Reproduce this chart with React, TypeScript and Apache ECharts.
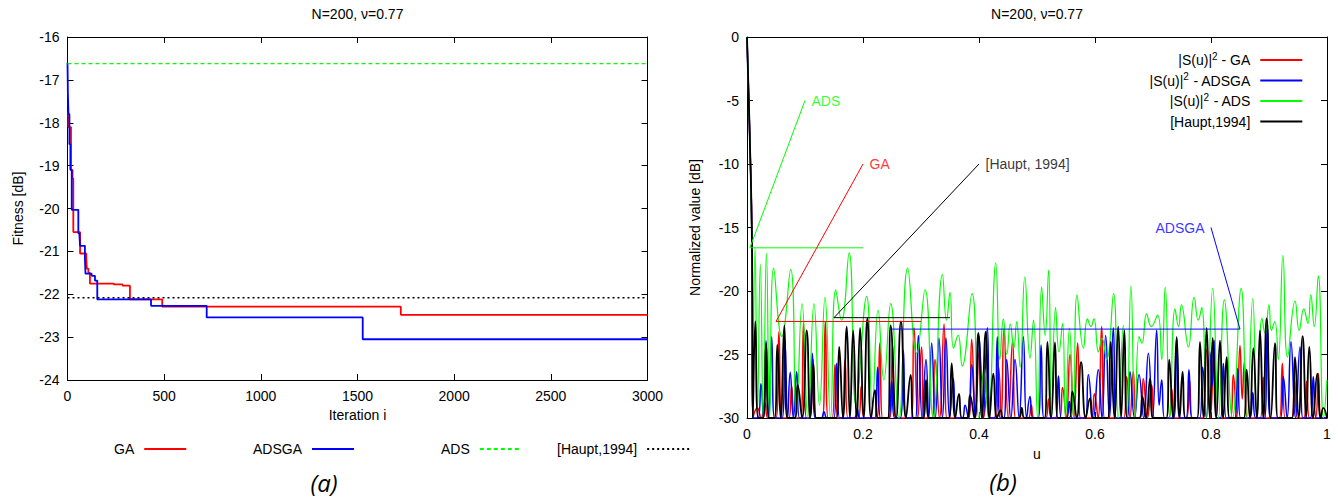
import React, { useEffect, useRef } from "react";
import * as echarts from "echarts";

const FONT = "'Liberation Sans', Arial, Helvetica, sans-serif";
const FS = 14;

// ---------- panel (a): fitness vs iteration ----------
const iterTicks = { min: 0, max: 3000, step: 500 };
const fitTicks = { min: -24, max: -16, step: 1 };
const gaFitness: [number, number][] = [
  [0, -17.75], [4, -18.1], [18, -19.1], [26, -19.3], [30, -20.55], [65, -21.05], [97, -21.15],
  [100, -21.4], [108, -21.5], [116, -21.75], [240, -21.77], [285, -21.8], [323, -22.12],
  [490, -22.29], [1724, -22.48], [3000, -22.48],
];
const adsgaFitness: [number, number][] = [
  [0, -16.6], [2, -17.3], [5, -17.8], [10, -18.5], [15, -19.1], [22, -20.03], [56, -20.58],
  [62, -20.65], [65, -20.87], [90, -21.16], [93, -21.52], [125, -21.57], [142, -21.68],
  [154, -22.12], [432, -22.27], [720, -22.54], [1527, -23.05], [3000, -23.05],
];
const adsFitness: [number, number][] = [[0, -16.62], [3000, -16.62]];
const hauptFitness: [number, number][] = [[0, -22.08], [3000, -22.08]];

// ---------- panel (b): normalized pattern vs u ----------
const uTicks = { min: 0, max: 1, step: 0.2 };
const dbTicks = { min: -30, max: 0, step: 5 };

const gaPattern: [number, number][] = [
  [0, 0], [0.0043, -7], [0.0086, -16.5], [0.01, -30],
  [0.0178, -29.2], [0.0244, -30], [0.031, -28.8], [0.036, -30], [0.05, -30], [0.055, -23.2],
  [0.06, -30], [0.072, -30], [0.077, -27.5], [0.082, -30], [0.0925, -30], [0.0975, -22.5],
  [0.1025, -30], [0.109, -30], [0.114, -25.4], [0.119, -30], [0.13, -30], [0.135, -22.4],
  [0.14, -30], [0.1467, -30], [0.1517, -25.8], [0.1567, -30], [0.164, -30], [0.169, -25.4],
  [0.174, -30], [0.192, -30], [0.197, -27.5], [0.202, -30], [0.224, -30], [0.229, -24.1],
  [0.234, -30], [0.246, -30], [0.251, -24.3], [0.256, -30], [0.283, -30], [0.288, -22.9],
  [0.2945, -30], [0.301, -24.4], [0.306, -30], [0.3191, -30], [0.3241, -25.4], [0.3319, -30],
  [0.3397, -22.6], [0.3447, -30], [0.3824, -30], [0.3874, -23.8], [0.394, -30], [0.4006, -24.65],
  [0.4078, -30], [0.415, -28], [0.42, -30], [0.4289, -30], [0.4339, -26.0], [0.4385, -30],
  [0.443, -23.0], [0.4505, -30], [0.458, -23.9], [0.463, -30], [0.485, -30], [0.49, -29],
  [0.495, -30], [0.515, -30], [0.52, -28.5], [0.525, -30], [0.539, -30], [0.544, -27.6],
  [0.5505, -30], [0.5569, -25.0], [0.5635, -30], [0.5701, -24.1], [0.5751, -30], [0.5939, -30],
  [0.5989, -28.1], [0.6052, -30], [0.6115, -22.8], [0.6165, -30], [0.6496, -30], [0.6546, -26.75],
  [0.6603, -30], [0.666, -26.35], [0.671, -30], [0.6783, -30], [0.6833, -26.9], [0.6905, -30],
  [0.6977, -27.4], [0.7027, -30], [0.7272, -30], [0.7322, -27.7], [0.7372, -30], [0.758, -30],
  [0.763, -27], [0.768, -30], [0.787, -30], [0.792, -24.6], [0.7989, -30], [0.8057, -23.9],
  [0.8107, -30], [0.8335, -30], [0.8385, -26.6], [0.8443, -30], [0.85, -24.3], [0.8538, -28.5],
  [0.8575, -25.6], [0.8625, -30], [0.885, -30], [0.89, -26.8], [0.895, -30], [0.918, -30],
  [0.923, -25.7], [0.928, -30], [0.939, -30], [0.944, -27], [0.949, -30], [0.9599, -30],
  [0.9649, -27.1], [0.9699, -30], [0.98, -30], [0.985, -26.5], [0.99, -30], [1, -30],
];

const adsgaPattern: [number, number][] = [
  [0, 0], [0.0043, -7], [0.0086, -16.5], [0.01, -30],
  [0.019, -30], [0.024, -27.3], [0.0284, -30], [0.0328, -23.9], [0.0377, -30], [0.0425, -23.6],
  [0.0475, -30], [0.0605, -30], [0.0655, -24.0], [0.07, -30], [0.0745, -26.4], [0.08, -30],
  [0.0856, -26.35], [0.0906, -30], [0.1076, -30], [0.1126, -24.9], [0.1176, -30], [0.1278, -30],
  [0.1328, -29.5], [0.1378, -30], [0.1496, -30], [0.1546, -25.7], [0.1596, -30], [0.185, -30],
  [0.19, -29.3], [0.195, -30], [0.2203, -30], [0.2253, -26.0], [0.2303, -30], [0.2444, -30],
  [0.2494, -27.1], [0.2544, -30], [0.2645, -30], [0.2695, -24.65], [0.2745, -30], [0.2904, -30],
  [0.2954, -23.5], [0.302, -30], [0.3086, -25.4], [0.3135, -30], [0.3184, -24.1], [0.3247, -30],
  [0.331, -23.7], [0.337, -30], [0.343, -23.7], [0.3494, -30], [0.3557, -26.9], [0.3607, -30],
  [0.3709, -30], [0.3759, -29.0], [0.3816, -30], [0.3874, -25.8], [0.3937, -30], [0.4, -23.6],
  [0.4072, -30], [0.4144, -22.9], [0.4194, -30], [0.4266, -30], [0.4316, -23.6], [0.4366, -30],
  [0.4427, -30], [0.4477, -25.4], [0.4549, -30], [0.4621, -25.4], [0.4692, -30], [0.4764, -23.6],
  [0.4821, -30], [0.4879, -28.3], [0.4929, -30], [0.502, -30], [0.507, -24.25], [0.512, -30],
  [0.532, -30], [0.537, -26.7], [0.542, -30], [0.5507, -30], [0.5557, -28.7], [0.5607, -30],
  [0.5835, -30], [0.5885, -26.6], [0.5971, -30], [0.6057, -26.2], [0.612, -30], [0.6184, -23.5],
  [0.625, -30], [0.6316, -22.9], [0.6366, -30], [0.6553, -30], [0.6603, -26.35], [0.6681, -30],
  [0.6759, -26.6], [0.684, -30], [0.692, -24.9], [0.6991, -30], [0.7063, -23.1], [0.7106, -29],
  [0.715, -27.0], [0.72, -30], [0.7358, -30], [0.7408, -23.6], [0.7458, -30], [0.757, -30],
  [0.762, -26.2], [0.767, -30], [0.7806, -30], [0.7856, -26.0], [0.792, -30], [0.7983, -24.8],
  [0.8018, -27.5], [0.8052, -23.9], [0.8102, -30], [0.8163, -30], [0.8213, -25.7], [0.8263, -30],
  [0.841, -30], [0.846, -26.1], [0.851, -30], [0.867, -30], [0.872, -28], [0.877, -30],
  [0.8921, -30], [0.8971, -22.7], [0.9021, -30], [0.9197, -30], [0.9247, -26.75], [0.9313, -30],
  [0.9379, -24.0], [0.9456, -30], [0.9534, -24.4], [0.9584, -30], [0.9714, -30], [0.9764, -26.75],
  [0.9814, -30], [1, -30],
];

const adsPattern: [number, number][] = [
  [0, 0], [0.004, -6.5], [0.008, -15.5], [0.0095, -28.5],
  [0.0138, -16.6], [0.018, -29.5], [0.023, -17.9], [0.028, -30], [0.0335, -17.0], [0.039, -30],
  [0.046, -18.2], [0.06, -23.6], [0.0753, -18.3], [0.085, -30], [0.095, -21.0], [0.105, -30],
  [0.1155, -21.0], [0.125, -29], [0.1345, -20.5], [0.144, -30], [0.153, -19.9], [0.163, -22.3],
  [0.176, -17.0], [0.188, -29], [0.2063, -20.45], [0.216, -29], [0.226, -21.5], [0.236, -27],
  [0.2477, -21.0], [0.262, -30], [0.277, -18.2], [0.2925, -24.9], [0.307, -19.9], [0.321, -30],
  [0.337, -18.7], [0.344, -22.3], [0.35, -20.1], [0.356, -24.5], [0.364, -23.5], [0.371, -25.9],
  [0.388, -20.2], [0.4, -30], [0.409, -26], [0.416, -30], [0.429, -17.8], [0.436, -25.4],
  [0.442, -22.2], [0.448, -25.0], [0.454, -22.6], [0.46, -24.5], [0.465, -22.4], [0.471, -26.0],
  [0.479, -18.9], [0.488, -25.3], [0.494, -22.3], [0.501, -30], [0.508, -19.7], [0.514, -23.5],
  [0.52, -18.35], [0.525, -30], [0.532, -21.3], [0.538, -24.8], [0.544, -22.55], [0.549, -30],
  [0.556, -22.9], [0.563, -30], [0.569, -20.3], [0.58, -24.5], [0.587, -22.2], [0.593, -22.8],
  [0.598, -22.2], [0.606, -24.8], [0.612, -23.7], [0.62, -25.4], [0.632, -20.2], [0.64, -30],
  [0.649, -22.7], [0.655, -30], [0.662, -19.6], [0.669, -30], [0.676, -23.6], [0.681, -24.1],
  [0.689, -21.8], [0.697, -22.8], [0.708, -21.9], [0.715, -25.4], [0.721, -19.7], [0.729, -30],
  [0.738, -21.4], [0.744, -22.8], [0.749, -21.1], [0.761, -24.4], [0.771, -20.5], [0.778, -22.3],
  [0.784, -21.3], [0.7925, -30], [0.803, -19.8], [0.813, -30], [0.823, -20.7], [0.837, -30],
  [0.852, -19.8], [0.862, -30], [0.872, -20.6], [0.879, -30], [0.888, -22.15], [0.893, -23.3],
  [0.9, -21.1], [0.904, -23.1], [0.91, -22.4], [0.916, -25.4], [0.924, -17.2], [0.932, -25.2],
  [0.945, -20.8], [0.952, -23.1], [0.96, -21.4], [0.967, -22.55], [0.972, -20.3], [0.978, -22.8],
  [0.985, -18.8], [0.994, -30], [1, -27],
];

const hauptPattern: [number, number][] = [
  [0, 0], [0.0043, -7], [0.0086, -16.5], [0.01, -30],
  [0.0144, -22.4], [0.0194, -30], [0.0278, -30], [0.0328, -24.1], [0.0378, -30], [0.0473, -30],
  [0.0523, -24.25], [0.058, -30], [0.0644, -22.7], [0.0694, -30], [0.0824, -30], [0.0874, -27.4],
  [0.095, -30], [0.103, -23.1], [0.109, -30], [0.1144, -25.8], [0.1194, -30], [0.154, -30],
  [0.159, -24.4], [0.1655, -30], [0.172, -22.8], [0.1775, -30], [0.183, -23.1], [0.189, -30],
  [0.195, -22.9], [0.201, -30], [0.2075, -22.15], [0.214, -30], [0.2207, -27.8], [0.2257, -30],
  [0.2427, -30], [0.2477, -22.7], [0.257, -30], [0.2655, -22.4], [0.274, -30], [0.2822, -26.6],
  [0.2872, -30], [0.3036, -30], [0.3086, -27.0], [0.3136, -30], [0.3479, -30], [0.3529, -25.7],
  [0.359, -30], [0.3655, -28.1], [0.3705, -30], [0.3795, -30], [0.3845, -28.2], [0.392, -30],
  [0.3989, -23.3], [0.405, -30], [0.4115, -23.2], [0.418, -30], [0.4247, -26.5], [0.431, -30],
  [0.4374, -29.4], [0.4424, -30], [0.4686, -30], [0.4736, -29.2], [0.4786, -30], [0.513, -30],
  [0.518, -24.0], [0.5245, -30], [0.531, -24.05], [0.536, -30], [0.556, -30], [0.561, -27.9],
  [0.5685, -30], [0.576, -25.6], [0.584, -30], [0.5914, -28.45], [0.5964, -30], [0.622, -30],
  [0.627, -24.0], [0.6335, -30], [0.64, -22.8], [0.645, -30], [0.6506, -23.1], [0.6556, -30],
  [0.6766, -30], [0.6816, -28.3], [0.688, -30], [0.695, -26.9], [0.7, -30], [0.723, -30],
  [0.728, -25.4], [0.7345, -30], [0.7408, -23.7], [0.746, -30], [0.751, -26.35], [0.756, -30],
  [0.776, -30], [0.781, -24.0], [0.787, -30], [0.7925, -22.9], [0.798, -30], [0.8029, -23.7],
  [0.809, -30], [0.8155, -23.9], [0.821, -30], [0.827, -25.2], [0.832, -30], [0.8565, -30],
  [0.8615, -26.2], [0.867, -30], [0.873, -24.5], [0.879, -30], [0.8845, -23.1], [0.89, -30],
  [0.896, -22.15], [0.903, -30], [0.9103, -24.1], [0.9153, -30], [0.9398, -30], [0.9448, -25.2],
  [0.951, -30], [0.958, -23.55], [0.964, -30], [0.9695, -24.4], [0.976, -30], [0.9833, -26.5],
  [0.989, -30], [0.9937, -29.2], [1, -30],
];

// annotation leaders (label point last)
const adsNote: [number, number][] = [[0.2, -16.6], [0.005, -16.6], [0.1, -5]];
const gaNote: [number, number][] = [[0.3, -22.4], [0.05, -22.4], [0.2, -10]];
const hauptNote: [number, number][] = [[0.35, -22.1], [0.15, -22.1], [0.4, -10]];
const adsgaNote: [number, number][] = [[0.25, -23.0], [0.85, -23.0], [0.8, -15]];

const RED = "#ff0000";
const BLUE = "#0000ff";
const GREEN = "#00ff00";
const BLACK = "#000000";

const txt = { fontSize: FS, fontFamily: FONT, color: "#000" };

function xAx(grid: number, t: { min: number; max: number; step: number }, top: boolean, name?: string, gap?: number) {
  return {
    gridIndex: grid,
    type: "value",
    position: top ? "top" : "bottom",
    min: t.min,
    max: t.max,
    interval: t.step,
    name: top ? undefined : name,
    nameLocation: "middle",
    nameGap: gap,
    nameTextStyle: txt,
    axisLine: { show: true, onZero: false, lineStyle: { color: "#000", width: 1 } },
    axisTick: { show: true, inside: true, length: 6, lineStyle: { color: "#000" } },
    axisLabel: {
      show: !top,
      ...txt,
      margin: 9,
      formatter: (v: number) => String(Math.round(v * 10) / 10),
    },
    splitLine: { show: false },
  };
}
function yAx(grid: number, t: { min: number; max: number; step: number }, right: boolean, name?: string, gap?: number) {
  return {
    gridIndex: grid,
    type: "value",
    position: right ? "right" : "left",
    min: t.min,
    max: t.max,
    interval: t.step,
    name: right ? undefined : name,
    nameLocation: "middle",
    nameGap: gap,
    nameRotate: 90,
    nameTextStyle: txt,
    axisLine: { show: true, onZero: false, lineStyle: { color: "#000", width: 1 } },
    axisTick: { show: true, inside: true, length: 6, lineStyle: { color: "#000" } },
    axisLabel: { show: !right, ...txt, margin: 8 },
    splitLine: { show: false },
  };
}

function line(name: string, data: [number, number][], grid: number, color: string, width: number, extra: any = {}) {
  return {
    name,
    type: "line",
    xAxisIndex: grid * 2,
    yAxisIndex: grid * 2,
    data,
    symbol: "none",
    showSymbol: false,
    lineStyle: { color, width },
    itemStyle: { color },
    ...extra,
  };
}

function note(text: string, at: [number, number], color: string, pos: string) {
  return {
    type: "scatter",
    xAxisIndex: 2,
    yAxisIndex: 2,
    data: [at],
    symbolSize: 1,
    itemStyle: { color: "transparent" },
    silent: true,
    label: { show: true, position: pos, distance: 6, formatter: text, color, fontSize: FS, fontFamily: FONT },
  };
}

const patternLabels: Record<string, string> = {
  "S-GA": "{t||S(u)|}{s|2}{t| - GA}",
  "S-ADSGA": "{t||S(u)|}{s|2}{t| - ADSGA}",
  "S-ADS": "{t||S(u)|}{s|2}{t| - ADS}",
  "S-Haupt": "{t|[Haupt,1994]}",
};

const hideSymbol = { opacity: 0, borderWidth: 0 };

function leftLegend(name: string, left: number) {
  return {
    data: [name],
    left,
    top: 437,
    align: "right",
    itemWidth: 42,
    itemHeight: 14,
    selectedMode: false,
    itemStyle: hideSymbol,
    textStyle: { ...txt, padding: [0, 5, 0, 0] },
  };
}

export default function App() {
  const ref = useRef<HTMLDivElement>(null);
  useEffect(() => {
    if (!ref.current) return;
    const chart = echarts.init(ref.current, null, { renderer: "svg" });
    const option: any = {
      animation: false,
      backgroundColor: "#fff",
      textStyle: { fontFamily: FONT },
      grid: [
        { left: 67.5, top: 37, width: 580, height: 343 },
        { left: 747, top: 37, width: 580, height: 381 },
      ],
      xAxis: [
        xAx(0, iterTicks, false, "Iteration i", 27),
        xAx(0, iterTicks, true),
        xAx(1, uTicks, false, "u", 29),
        xAx(1, uTicks, true),
      ],
      yAxis: [
        yAx(0, fitTicks, false, "Fitness [dB]", 43),
        yAx(0, fitTicks, true),
        yAx(1, dbTicks, false, "Normalized value [dB]", 45),
        yAx(1, dbTicks, true),
      ],
      legend: [
        leftLegend("GA", 109),
        leftLegend("ADSGA", 248),
        leftLegend("ADS", 436),
        leftLegend("[Haupt,1994]", 552),
        {
          data: ["S-GA", "S-ADSGA", "S-ADS", "S-Haupt"],
          orient: "vertical",
          right: 29.7,
          top: 46,
          align: "right",
          itemWidth: 42,
          itemHeight: 14,
          itemGap: 2.5,
          selectedMode: false,
          itemStyle: hideSymbol,
          formatter: (n: string) => patternLabels[n],
          textStyle: {
            ...txt,
            lineHeight: 18,
            padding: [0, 5, 0, 0],
            rich: {
              t: { fontSize: FS, fontFamily: FONT, color: "#000", lineHeight: 18 },
              s: { fontSize: 10, fontFamily: FONT, color: "#000", lineHeight: 18, verticalAlign: "top" },
            },
          },
        },
      ],
      graphic: [
        { type: "text", x: 357.5, y: 14, style: { text: "N=200, \u03bd=0.77", font: `${FS}px ${FONT}`, fill: "#000", align: "center", verticalAlign: "middle" } },
        { type: "text", x: 1037, y: 14, style: { text: "N=200, \u03bd=0.77", font: `${FS}px ${FONT}`, fill: "#000", align: "center", verticalAlign: "middle" } },
        { type: "text", x: 324, y: 482, style: { text: "(a)", font: `italic 24px 'Open Sans', 'Noto Sans', sans-serif`, fill: "#000", align: "center", verticalAlign: "middle" } },
        { type: "text", x: 1003, y: 481, style: { text: "(b)", font: `italic 24px 'Open Sans', 'Noto Sans', sans-serif`, fill: "#000", align: "center", verticalAlign: "middle" } },
      ],
      series: [
        line("GA", gaFitness, 0, RED, 1.8, { step: "end" }),
        line("ADSGA", adsgaFitness, 0, BLUE, 1.8, { step: "end" }),
        line("ADS", adsFitness, 0, GREEN, 1.2, { lineStyle: { color: GREEN, width: 1.2, type: [4, 3] } }),
        line("[Haupt,1994]", hauptFitness, 0, BLACK, 1.5, { lineStyle: { color: BLACK, width: 1.5, type: [2, 3] } }),

        line("S-GA", gaPattern, 1, RED, 1.5, { smooth: 0.5 }),
        line("S-ADSGA", adsgaPattern, 1, BLUE, 1.5, { smooth: 0.5 }),
        line("S-ADS", adsPattern, 1, GREEN, 1.2, { smooth: 0.5 }),
        line("S-Haupt", hauptPattern, 1, BLACK, 1.8, { smooth: 0.5 }),

        line("note-ads", adsNote, 1, GREEN, 1),
        line("note-ga", gaNote, 1, RED, 1),
        line("note-haupt", hauptNote, 1, BLACK, 1),
        line("note-adsga", adsgaNote, 1, BLUE, 1),
        note("ADS", adsNote[2], GREEN, "right"),
        note("GA", gaNote[2], RED, "right"),
        note("[Haupt, 1994]", hauptNote[2], BLACK, "right"),
        note("ADSGA", adsgaNote[2], BLUE, "left"),
      ],
    };
    chart.setOption(option);
    return () => chart.dispose();
  }, []);
  return <div ref={ref} style={{ position: "absolute", left: 0, top: 0, width: 1338, height: 498 }} />;
}
